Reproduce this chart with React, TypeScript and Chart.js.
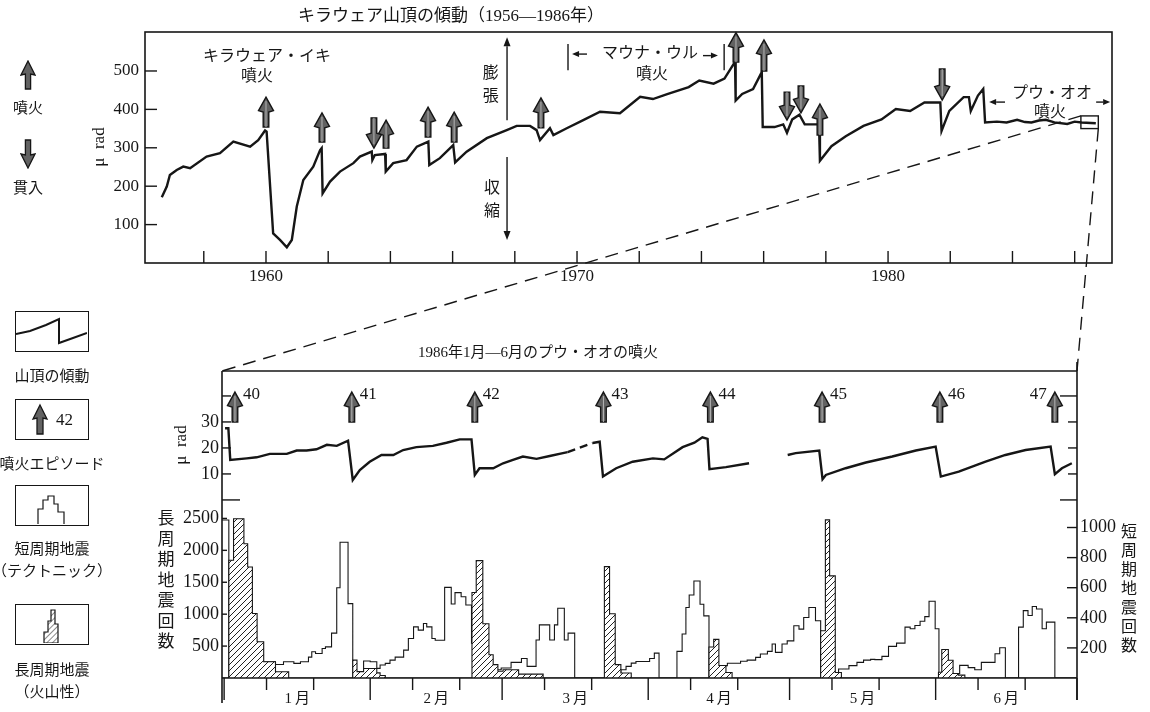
import React, { useEffect, useRef } from 'react';
import { Chart, registerables } from 'chart.js';

Chart.register(...registerables);

const SERIF = '"Liberation Serif", "DejaVu Serif", serif';
const JP = '"Noto Sans CJK JP", "Noto Sans", sans-serif';
const MIX = '"Liberation Serif", "Noto Sans CJK JP", serif';
const INK = '#161616';

// ===== Top panel: Kilauea summit tilt 1956-1986 (micro-radian) =====
const summitYears = [
  1956.65, 1956.81, 1956.91, 1957.13, 1957.34, 1957.56, 1958.09, 1958.52, 1958.95, 1959.49,
  1959.75, 1959.97, 1960.02, 1960.23, 1960.45, 1960.67, 1960.83, 1960.99, 1961.2, 1961.52,
  1961.74, 1961.79, 1961.82, 1962.06, 1962.38, 1962.81, 1963.02, 1963.4, 1963.42, 1963.5,
  1963.83, 1963.85, 1964.09, 1964.52, 1964.85, 1965.22, 1965.25, 1965.59, 1966.02, 1966.08,
  1966.45, 1967.1, 1967.74, 1968.06, 1968.49, 1968.7, 1968.81, 1969.13, 1969.24, 1969.67,
  1970.2, 1970.74, 1971.38, 1972.03, 1972.44, 1972.9, 1973.59, 1973.93, 1974.39, 1974.74,
  1975.08, 1975.1, 1975.31, 1975.66, 1975.94, 1975.97, 1976.35, 1976.63, 1976.75, 1976.92,
  1977.15, 1977.32, 1977.78, 1977.81, 1978.18, 1978.64, 1979.21, 1979.79, 1980.25, 1980.71,
  1981.17, 1981.68, 1981.72, 1981.97, 1982.43, 1982.6, 1982.66, 1982.89, 1983.06, 1983.12,
  1983.5, 1983.81, 1984.15, 1984.4, 1984.61, 1984.85, 1985.07, 1985.35, 1985.76, 1986.0,
  1986.22, 1986.68,
];
const summitTilt = [
  171, 199, 229, 242, 251, 247, 277, 286, 316, 303,
  320, 345, 342, 77, 60, 41, 60, 147, 216, 251,
  294, 299, 181, 212, 238, 260, 277, 290, 268, 281,
  284, 238, 260, 268, 303, 316, 255, 273, 307, 262,
  290, 325, 346, 357, 357, 346, 320, 351, 333, 351,
  372, 394, 390, 433, 427, 440, 458, 475, 467, 480,
  524, 423, 440, 453, 497, 354, 354, 361, 339, 374,
  386, 361, 361, 266, 304, 330, 357, 374, 401, 396,
  418, 418, 344, 396, 432, 432, 396, 436, 453, 366,
  368, 366, 373, 367, 366, 371, 373, 366, 362, 368,
  366, 364,
];
const summitYearLabels = [1960, 1970, 1980];
const summitYearTicks = [1958, 1960, 1962, 1964, 1966, 1968, 1970, 1972, 1974, 1976, 1978, 1980, 1982, 1984, 1986];
const summitTiltTicks = [100, 200, 300, 400, 500];

// eruption (up) and intrusion (down) arrows: year, tail value, tip value
const eruptionYears = [1960.0, 1961.8, 1963.86, 1965.21, 1966.05, 1968.84, 1975.11, 1976.01, 1977.81];
const eruptionFrom = [354, 315, 299, 328, 315, 352, 523, 500, 333];
const eruptionTo = [432, 391, 372, 406, 393, 430, 600, 581, 414];
const intrusionYears = [1963.47, 1976.75, 1977.2, 1981.74];
const intrusionFrom = [378, 445, 461, 505];
const intrusionTo = [299, 372, 391, 424];

const topNotes = [
  { text: 'キラウェア・イキ', year: 1960.03, value: 542 },
  { text: '噴火', year: 1959.71, value: 490 },
  { text: '膨', year: 1967.23, value: 497 },
  { text: '張', year: 1967.23, value: 437 },
  { text: '収', year: 1967.27, value: 198 },
  { text: '縮', year: 1967.27, value: 138 },
  { text: 'マウナ・ウル', year: 1972.35, value: 549 },
  { text: '噴火', year: 1972.41, value: 495 },
  { text: 'プウ・オオ', year: 1985.27, value: 445 },
  { text: '噴火', year: 1985.21, value: 396 },
];
const strainArrows = [
  { year: 1967.75, from: 372, to: 588 },
  { year: 1967.75, from: 276, to: 60 },
];
const bracketBars = [
  { year: 1969.71, from: 570, to: 502 },
  { year: 1974.73, from: 570, to: 502 },
];
const spanArrows = [
  { from: 1970.32, to: 1969.84, value: 544 },
  { from: 1974.05, to: 1974.53, value: 540 },
  { from: 1983.76, to: 1983.25, value: 419 },
  { from: 1986.69, to: 1987.14, value: 419 },
];
const zoomBoxYears = [1986.2, 1986.76];
const zoomBoxTilt = [383, 350];

// ===== Bottom panel: Jan-Jun 1986 (day of year) =====
const monthNames = ['1\u2009月', '2\u2009月', '3\u2009月', '4\u2009月', '5\u2009月', '6\u2009月'];
const monthMidDays = [15.5, 45, 74.5, 105, 135.5, 166];
const monthStartDays = [0, 31, 59, 90, 120, 151, 181];
const dekadDays = [9, 19, 40, 50, 68, 78, 99, 109, 129, 139, 160, 170];

const episodeNames = ['40', '41', '42', '43', '44', '45', '46', '47'];
const episodeDays = [2.3, 27.1, 53.2, 80.5, 103.2, 126.9, 151.9, 176.3];

const tiltDays = [
  0.2, 0.9, 1.3, 4.8, 6.9, 9.7, 13.3, 15.4, 17.5, 19.6,
  21.8, 23.9, 26.3, 27.3, 28.8, 30.9, 33.4, 35.9, 38.0, 40.8,
  44.3, 47.2, 50.0, 52.5, 53.2, 54.2, 57.1, 59.2, 61.3, 63.4,
  66.3, 69.1, 71.9, 72.9, 75.5, 78.2, 79.7, 80.4, 83.2, 86.7,
  91.0, 93.4, 97.3, 99.8, 101.5, 102.6, 103.0, 106.5, 111.4, 115.5,
  119.6, 121.3, 126.3, 127.0, 127.7, 131.9, 136.2, 141.8, 146.8, 151.0,
  152.1, 155.9, 161.6, 165.8, 170.1, 175.4, 176.3, 177.8, 179.9,
];
const tiltValues = [
  27.6, 27.6, 15.4, 16.0, 16.4, 17.7, 17.7, 19.0, 19.0, 19.5,
  21.2, 20.8, 22.8, 7.7, 11.5, 14.7, 17.3, 17.3, 19.2, 20.3,
  20.8, 22.0, 23.3, 23.3, 9.6, 12.2, 12.2, 14.1, 15.4, 16.7,
  15.8, 16.9, 18.0, 18.4, null, 21.9, 22.4, 9.0, 12.2, 14.7,
  16.0, 15.6, 20.3, 22.0, 24.1, 23.5, 11.8, 12.6, 14.1, null,
  17.3, 18.0, 19.0, 8.0, 9.6, 12.2, 14.4, 16.7, 19.0, 20.5,
  9.0, 10.9, 14.7, 17.3, 19.2, 20.5, 9.9, 12.2, 14.1,
];
const tiltBridgeDays = [72.9, 78.2];
const tiltBridgeValues = [18.4, 21.9];

// short-period (tectonic) earthquakes: bin start day, count (right axis)
const shortBinStart = [
  -0.45, 1.0, 8.4, 10.9, 12.6, 14.8, 16.2, 17.9, 18.6, 19.4,
  20.8, 21.5, 22.8, 23.9, 24.6, 26.3, 27.3, 28.2, 29.6, 31.0,
  32.4, 33.1, 34.2, 35.2, 36.3, 38.1, 39.1, 40.2, 41.2, 42.3,
  43.0, 44.1, 44.8, 46.8, 48.2, 49.0, 50.3, 51.3, 52.5, 52.8,
  56.4, 58.8, 60.9, 63.1, 64.3, 66.2, 66.9, 69.1, 70.1, 70.8,
  72.2, 73.0, 74.4, 84.2, 85.3, 86.4, 87.4, 90.3, 91.3, 92.3,
  96.1, 97.2, 98.0, 98.7, 99.7, 101.0, 101.8, 102.9, 105.0, 106.8,
  109.6, 111.0, 112.8, 113.8, 115.3, 116.3, 117.0, 118.4, 119.5, 120.9,
  122.0, 123.0, 124.1, 125.5, 126.6, 130.4, 132.6, 134.3, 135.7, 137.2,
  138.1, 139.6, 141.0, 142.7, 144.5, 145.6, 146.6, 147.7, 148.7, 149.6,
  150.9, 151.7, 155.1, 156.1, 157.9, 159.3, 160.7, 163.6, 164.6, 165.8,
  168.6, 169.6, 170.6, 171.5, 172.4, 173.6, 174.5, 176.3, 181,
];
const shortBinCount = [
  1050, 0, 108, 90, 108, 97, 108, 139, 174, 163,
  196, 207, 298, 600, 902, 494, 0, 42, 113, 108,
  64, 86, 97, 119, 139, 185, 262, 340, 318, 362,
  340, 262, 251, 602, 492, 567, 540, 485, 232, 0,
  55, 66, 104, 130, 77, 253, 353, 253, 353, 463,
  253, 298, 0, 55, 77, 99, 110, 130, 165, 0,
  177, 292, 468, 552, 645, 490, 413, 0, 82, 98,
  111, 119, 137, 159, 177, 226, 170, 226, 247, 347,
  325, 402, 468, 380, 0, 60, 82, 104, 119, 124,
  122, 144, 210, 232, 338, 327, 349, 377, 408, 510,
  327, 0, 29, 84, 69, 55, 104, 161, 201, 0,
  338, 448, 415, 475, 459, 327, 371, 0, 0,
];

// long-period (volcanic) earthquakes: bin start day, count (left axis)
const longBinStart = [
  -0.45, 1.0, 2.0, 4.2, 5.0, 6.0, 7.0, 8.4, 10.9, 13.7,
  27.3, 28.2, 29.6, 32.4, 33.1, 34.2, 52.6, 53.5, 54.9, 56.2,
  57.1, 58.1, 59.2, 62.5, 67.7, 80.7, 81.8, 83.0, 84.2, 86.4,
  102.9, 103.9, 105.0, 106.5, 107.8, 126.6, 127.6, 128.5, 129.7, 131.0,
  151.6, 152.3, 153.7, 154.7, 155.8, 157.2, 181,
];
const longBinCount = [
  0, 1844, 2495, 2104, 1740, 1010, 568, 255, 99, 0,
  280, 100, 150, 80, 40, 0, 1339, 1839, 850, 365,
  209, 105, 130, 60, 0, 1745, 1006, 209, 79, 0,
  485, 605, 195, 85, 0, 741, 2478, 1600, 85, 0,
  90, 446, 279, 71, 45, 0, 0,
];

const tiltTickValues = [0, 10, 20, 30, 40];
const tiltLabelValues = [10, 20, 30];
const longAxisTicks = [500, 1000, 1500, 2000, 2500];
const shortAxisTicks = [200, 400, 600, 800, 1000];

const longLabelChars = ['長', '周', '期', '地', '震', '回', '数'];
const shortLabelChars = ['短', '周', '期', '地', '震', '回', '数'];

// ---------- drawing helpers ----------
function seg(ctx: any, x1: number, y1: number, x2: number, y2: number) {
  ctx.beginPath();
  ctx.moveTo(x1, y1);
  ctx.lineTo(x2, y2);
  ctx.stroke();
}

function fatArrow(ctx: any, x: number, yFrom: number, yTip: number) {
  const dir = yTip < yFrom ? -1 : 1;
  const headLen = 15;
  const headHalf = 7.5;
  const shaft = 2.8;
  const hb = yTip - dir * headLen;
  ctx.save();
  ctx.beginPath();
  ctx.moveTo(x, yTip);
  ctx.lineTo(x + headHalf, hb + dir * 1.5);
  ctx.lineTo(x + shaft, hb);
  ctx.lineTo(x + shaft, yFrom);
  ctx.lineTo(x - shaft, yFrom);
  ctx.lineTo(x - shaft, hb);
  ctx.lineTo(x - headHalf, hb + dir * 1.5);
  ctx.closePath();
  ctx.fillStyle = '#626262';
  ctx.fill();
  ctx.lineWidth = 1.4;
  ctx.strokeStyle = INK;
  ctx.stroke();
  ctx.beginPath();
  ctx.moveTo(x, yTip + dir * -4);
  ctx.lineTo(x, yFrom);
  ctx.strokeStyle = '#b5b5b5';
  ctx.lineWidth = 1;
  ctx.stroke();
  ctx.restore();
}

function thinArrow(ctx: any, x1: number, y1: number, x2: number, y2: number, head = 9, half = 3.5) {
  const ang = Math.atan2(y2 - y1, x2 - x1);
  const bx = x2 - Math.cos(ang) * head;
  const by = y2 - Math.sin(ang) * head;
  ctx.save();
  ctx.lineWidth = 1.4;
  ctx.strokeStyle = INK;
  seg(ctx, x1, y1, bx, by);
  ctx.beginPath();
  ctx.moveTo(x2, y2);
  ctx.lineTo(bx - Math.sin(ang) * half, by + Math.cos(ang) * half);
  ctx.lineTo(bx + Math.sin(ang) * half, by - Math.cos(ang) * half);
  ctx.closePath();
  ctx.fillStyle = INK;
  ctx.fill();
  ctx.restore();
}

function makeHatch(ctx: CanvasRenderingContext2D) {
  const c = document.createElement('canvas');
  c.width = 6;
  c.height = 6;
  const g = c.getContext('2d')!;
  g.fillStyle = '#fff';
  g.fillRect(0, 0, 6, 6);
  g.strokeStyle = '#222';
  g.lineWidth = 1;
  g.beginPath();
  g.moveTo(0, 6); g.lineTo(6, 0);
  g.moveTo(-1, 1); g.lineTo(1, -1);
  g.moveTo(5, 7); g.lineTo(7, 5);
  g.stroke();
  return ctx.createPattern(c, 'repeat')!;
}

// ---------- plugins ----------
const topDecor = {
  id: 'topDecor',
  afterDraw(chart: any) {
    const { ctx, chartArea: a } = chart;
    const X = (v: number) => chart.scales.x.getPixelForValue(v);
    const Y = (v: number) => chart.scales.y.getPixelForValue(v);
    ctx.save();
    ctx.strokeStyle = INK;
    ctx.lineWidth = 1.6;
    ctx.strokeRect(a.left, a.top, a.right - a.left, a.bottom - a.top);
    ctx.lineWidth = 1.4;
    summitYearTicks.forEach((v) => seg(ctx, X(v), a.bottom, X(v), a.bottom - 12));
    summitTiltTicks.forEach((v) => seg(ctx, a.left, Y(v), a.left + 12, Y(v)));
    eruptionYears.forEach((yr, i) => fatArrow(ctx, X(yr), Y(eruptionFrom[i]), Y(eruptionTo[i])));
    intrusionYears.forEach((yr, i) => fatArrow(ctx, X(yr), Y(intrusionFrom[i]), Y(intrusionTo[i])));
    strainArrows.forEach((s) => thinArrow(ctx, X(s.year), Y(s.from), X(s.year), Y(s.to)));
    ctx.lineWidth = 1.4;
    bracketBars.forEach((b) => seg(ctx, X(b.year), Y(b.from), X(b.year), Y(b.to)));
    spanArrows.forEach((s) => thinArrow(ctx, X(s.from), Y(s.value), X(s.to), Y(s.value), 7, 3));
    ctx.lineWidth = 1.4;
    const bx0 = X(zoomBoxYears[0]);
    const bx1 = X(zoomBoxYears[1]);
    const by0 = Y(zoomBoxTilt[0]);
    const by1 = Y(zoomBoxTilt[1]);
    ctx.strokeRect(bx0, by0, bx1 - bx0, by1 - by0);
    ctx.fillStyle = INK;
    ctx.textAlign = 'center';
    ctx.textBaseline = 'middle';
    ctx.font = `16px ${JP}`;
    topNotes.forEach((n) => ctx.fillText(n.text, X(n.year), Y(n.value)));
    ctx.restore();
  },
};

const bottomDecor = {
  id: 'bottomDecor',
  afterDraw(chart: any) {
    const { ctx, chartArea: a, scales } = chart;
    const X = (v: number) => scales.x.getPixelForValue(v);
    const T = (v: number) => scales.yT.getPixelForValue(v);
    const L = (v: number) => scales.yL.getPixelForValue(v);
    const S = (v: number) => scales.yS.getPixelForValue(v);
    ctx.save();
    ctx.strokeStyle = INK;
    ctx.lineWidth = 1.6;
    const base = L(0);
    seg(ctx, a.left, a.top, a.right, a.top);
    seg(ctx, a.left, a.top, a.left, base + 25);
    seg(ctx, a.right, a.top - 9, a.right, base + 22);
    seg(ctx, a.left, base, a.right, base);
    ctx.lineWidth = 1.4;
    monthStartDays.forEach((d) => seg(ctx, X(d), base, X(d), base + 22));
    dekadDays.forEach((d) => seg(ctx, X(d), base, X(d), base + 12));
    tiltTickValues.forEach((v) => {
      const py = T(v);
      seg(ctx, a.left, py, a.left + (v === 0 ? 18 : 9), py);
      seg(ctx, a.right, py, a.right - (v === 0 || v === 40 ? 17 : 9), py);
    });
    longAxisTicks.forEach((v) => seg(ctx, a.left, L(v), a.left + 5, L(v)));
    shortAxisTicks.forEach((v) => seg(ctx, a.right, S(v), a.right - 10, S(v)));
    ctx.fillStyle = INK;
    ctx.font = `18px ${SERIF}`;
    ctx.textAlign = 'right';
    ctx.textBaseline = 'middle';
    tiltLabelValues.forEach((v) => ctx.fillText(String(v), a.left - 3, T(v)));
    episodeDays.forEach((d, i) => {
      const px = X(d);
      fatArrow(ctx, px, T(30), T(41.5));
      ctx.fillStyle = INK;
      ctx.font = `17px ${SERIF}`;
      ctx.textBaseline = 'middle';
      if (i === episodeDays.length - 1) {
        ctx.textAlign = 'right';
        ctx.fillText(episodeNames[i], px - 8, T(40.5));
      } else {
        ctx.textAlign = 'left';
        ctx.fillText(episodeNames[i], px + 8, T(40.5));
      }
    });
    ctx.restore();
  },
};

function topConfig(): any {
  return {
    type: 'line',
    data: {
      datasets: [
        {
          data: summitYears.map((x, i) => ({ x, y: summitTilt[i] })),
          borderColor: INK,
          borderWidth: 2.4,
          pointRadius: 0,
          tension: 0,
          fill: false,
        },
      ],
    },
    options: {
      responsive: false,
      animation: false,
      devicePixelRatio: 1,
      events: [],
      layout: { padding: { left: 0, right: 38, top: 32, bottom: 0 } },
      plugins: { legend: { display: false }, tooltip: { enabled: false } },
      scales: {
        x: {
          type: 'linear',
          min: 1956.11,
          max: 1987.2,
          grid: { display: false, drawTicks: false },
          border: { display: false },
          afterFit: (s: any) => { s.height = 37; },
          afterBuildTicks: (s: any) => { s.ticks = summitYearLabels.map((v) => ({ value: v })); },
          ticks: {
            font: { family: SERIF, size: 17 },
            color: INK,
            padding: 3,
            autoSkip: false,
            maxRotation: 0,
            callback: (v: any) => String(v),
          },
        },
        y: {
          min: 0,
          max: 601.5,
          grid: { display: false, drawTicks: false },
          border: { display: false },
          afterFit: (s: any) => { s.width = 145; },
          afterBuildTicks: (s: any) => { s.ticks = summitTiltTicks.map((v) => ({ value: v })); },
          ticks: { font: { family: SERIF, size: 17 }, color: INK, padding: 6, callback: (v: any) => String(v) },
        },
      },
    },
    plugins: [topDecor],
  };
}

function bottomConfig(hatch: any): any {
  return {
    type: 'line',
    data: {
      datasets: [
        {
          data: longBinStart.map((x, i) => ({ x, y: longBinCount[i] })),
          yAxisID: 'yL',
          stepped: true,
          borderColor: INK,
          borderWidth: 1.1,
          backgroundColor: hatch,
          fill: 'origin',
          pointRadius: 0,
          order: 0,
        },
        {
          data: shortBinStart.map((x, i) => ({ x, y: shortBinCount[i] })),
          yAxisID: 'yS',
          stepped: true,
          borderColor: INK,
          borderWidth: 1.1,
          fill: false,
          pointRadius: 0,
          order: 1,
        },
        {
          data: tiltDays.map((x, i) => ({ x, y: tiltValues[i] })),
          yAxisID: 'yT',
          borderColor: INK,
          borderWidth: 2.4,
          pointRadius: 0,
          tension: 0,
          spanGaps: false,
          fill: false,
          order: 2,
        },
        {
          data: tiltBridgeDays.map((x, i) => ({ x, y: tiltBridgeValues[i] })),
          yAxisID: 'yT',
          borderColor: INK,
          borderWidth: 2.4,
          borderDash: [8, 5],
          pointRadius: 0,
          fill: false,
          order: 2,
        },
      ],
    },
    options: {
      responsive: false,
      animation: false,
      devicePixelRatio: 1,
      events: [],
      layout: { padding: { left: 0, right: 0, top: 41, bottom: 0 } },
      plugins: { legend: { display: false }, tooltip: { enabled: false } },
      scales: {
        x: {
          type: 'linear',
          min: -0.45,
          max: 181,
          grid: { display: false, drawTicks: false },
          border: { display: false },
          afterFit: (s: any) => { s.height = 34; },
          afterBuildTicks: (s: any) => { s.ticks = monthMidDays.map((v) => ({ value: v })); },
          ticks: {
            font: { family: MIX, size: 15 },
            color: INK,
            padding: 12,
            autoSkip: false,
            maxRotation: 0,
            callback: (_v: any, i: number) => monthNames[i],
          },
        },
        yT: { position: 'left', display: false, min: -68.5, max: 49.6 },
        yL: {
          position: 'left',
          min: 0,
          max: 4810,
          grid: { display: false, drawTicks: false },
          border: { display: false },
          afterFit: (s: any) => { s.width = 222; },
          afterBuildTicks: (s: any) => { s.ticks = longAxisTicks.map((v) => ({ value: v })); },
          ticks: { font: { family: SERIF, size: 18 }, color: INK, padding: 3, callback: (v: any) => String(v) },
        },
        yS: {
          position: 'right',
          min: 0,
          max: 2040,
          grid: { display: false, drawTicks: false },
          border: { display: false },
          afterFit: (s: any) => { s.width = 73; },
          afterBuildTicks: (s: any) => { s.ticks = shortAxisTicks.map((v) => ({ value: v })); },
          ticks: { font: { family: SERIF, size: 18 }, color: INK, padding: 3, callback: (v: any) => String(v) },
        },
      },
    },
    plugins: [bottomDecor],
  };
}

const BOTTOM_TOP = 330;

function Txt(props: { x: number; y: number; size?: number; rotate?: number; family?: string; children: any }) {
  const { x, y, size = 15, rotate, family = MIX, children } = props;
  return (
    <div
      style={{
        position: 'absolute',
        left: x,
        top: y,
        transform: `translate(-50%, -50%)${rotate ? ` rotate(${rotate}deg)` : ''}`,
        fontSize: size,
        fontFamily: family,
        whiteSpace: 'nowrap',
        lineHeight: 1,
        color: INK,
      }}
    >
      {children}
    </div>
  );
}

function ArrowIcon({ up }: { up: boolean }) {
  const d = up
    ? 'M8 1 L15 15 L10.6 14 L10.6 29 L5.4 29 L5.4 14 L1 15 Z'
    : 'M8 29 L15 15 L10.6 16 L10.6 1 L5.4 1 L5.4 16 L1 15 Z';
  return (
    <svg width="16" height="30" viewBox="0 0 16 30">
      <path d={d} fill="#626262" stroke={INK} strokeWidth="1.3" />
    </svg>
  );
}

function LegendBox({ top, children }: { top: number; children: any }) {
  return (
    <div style={{ position: 'absolute', left: 15, top, width: 74, height: 41, border: `1.6px solid ${INK}`, boxSizing: 'border-box' }}>
      <svg width="71" height="38" viewBox="0 0 71 38" style={{ position: 'absolute', left: 0, top: 0 }}>
        <defs>
          <pattern id="lgHatch" width="4" height="4" patternUnits="userSpaceOnUse" patternTransform="rotate(45)">
            <rect width="4" height="4" fill="#fff" />
            <line x1="0" y1="0" x2="0" y2="4" stroke={INK} strokeWidth="1" />
          </pattern>
        </defs>
        {children}
      </svg>
    </div>
  );
}

export default function App() {
  const topRef = useRef<HTMLCanvasElement>(null);
  const botRef = useRef<HTMLCanvasElement>(null);
  const ovRef = useRef<HTMLCanvasElement>(null);

  useEffect(() => {
    const topCanvas = topRef.current!;
    const botCanvas = botRef.current!;
    const hatch = makeHatch(botCanvas.getContext('2d')!);
    const top = new Chart(topCanvas, topConfig());
    const bot = new Chart(botCanvas, bottomConfig(hatch));

    const ov = ovRef.current!;
    const g = ov.getContext('2d')!;
    g.clearRect(0, 0, ov.width, ov.height);
    const tx = top.scales.x;
    const ty = top.scales.y;
    const b = bot.chartArea;
    g.strokeStyle = INK;
    g.lineWidth = 1.4;
    g.setLineDash([13, 8]);
    g.beginPath();
    g.moveTo(tx.getPixelForValue(zoomBoxYears[0]), ty.getPixelForValue(zoomBoxTilt[0]));
    g.lineTo(b.left, b.top + BOTTOM_TOP);
    g.moveTo(tx.getPixelForValue(zoomBoxYears[1]), ty.getPixelForValue(zoomBoxTilt[1]));
    g.lineTo(b.right, b.top + BOTTOM_TOP);
    g.stroke();

    return () => {
      top.destroy();
      bot.destroy();
    };
  }, []);

  return (
    <div style={{ position: 'absolute', left: 0, top: 0, width: 1150, height: 712, background: '#fff', overflow: 'hidden' }}>
      <canvas ref={topRef} width={1150} height={300} style={{ position: 'absolute', left: 0, top: 0, width: 1150, height: 300 }} />
      <canvas ref={botRef} width={1150} height={382} style={{ position: 'absolute', left: 0, top: BOTTOM_TOP, width: 1150, height: 382 }} />
      <canvas ref={ovRef} width={1150} height={712} style={{ position: 'absolute', left: 0, top: 0, width: 1150, height: 712, pointerEvents: 'none' }} />

      <Txt x={451} y={15} size={17}>キラウェア山頂の傾動（1956―1986年）</Txt>
      <Txt x={538} y={352} size={15}>1986年1月―6月のプウ・オオの噴火</Txt>

      <Txt x={98} y={147} size={17} rotate={-90} family={SERIF}>μ&nbsp;&nbsp;rad</Txt>
      <Txt x={180} y={445} size={17} rotate={-90} family={SERIF}>μ&nbsp;&nbsp;rad</Txt>

      {longLabelChars.map((c, i) => (
        <Txt key={'l' + i} x={166} y={516 + i * 20.5} size={17} family={JP}>{c}</Txt>
      ))}
      {shortLabelChars.map((c, i) => (
        <Txt key={'s' + i} x={1129} y={530 + i * 19} size={16} family={JP}>{c}</Txt>
      ))}

      <div style={{ position: 'absolute', left: 20, top: 60 }}><ArrowIcon up={true} /></div>
      <Txt x={28} y={106} size={15} family={JP}>噴火</Txt>
      <div style={{ position: 'absolute', left: 20, top: 139 }}><ArrowIcon up={false} /></div>
      <Txt x={28} y={186} size={15} family={JP}>貫入</Txt>

      <LegendBox top={311}>
        <polyline points="0,22 14,19 30,13 43,7 43,31 57,26 71,21" fill="none" stroke={INK} strokeWidth="2" />
      </LegendBox>
      <Txt x={52} y={374} size={15} family={JP}>山頂の傾動</Txt>

      <LegendBox top={399}>
        <path d="M24 5 L31 19 L27 18 L27 34 L21 34 L21 18 L17 19 Z" fill="#626262" stroke={INK} strokeWidth="1.3" />
        <text x="40" y="25" fontFamily={SERIF} fontSize="17" fill={INK}>42</text>
      </LegendBox>
      <Txt x={52} y={462} size={15} family={JP}>噴火エピソード</Txt>

      <LegendBox top={485}>
        <polyline points="22,38 22,23 27,23 27,14 32,14 32,10 38,10 38,18 42,18 42,26 48,26 48,38" fill="none" stroke={INK} strokeWidth="1.2" />
      </LegendBox>
      <Txt x={52} y={547} size={15} family={JP}>短周期地震</Txt>
      <Txt x={52} y={569} size={15} family={JP}>（テクトニック）</Txt>

      <LegendBox top={604}>
        <polygon points="28,38 28,27 32,27 32,16 35,16 35,5 39,5 39,19 42,19 42,38" fill="url(#lgHatch)" stroke={INK} strokeWidth="1.2" />
      </LegendBox>
      <Txt x={52} y={668} size={15} family={JP}>長周期地震</Txt>
      <Txt x={52} y={690} size={15} family={JP}>（火山性）</Txt>
    </div>
  );
}
